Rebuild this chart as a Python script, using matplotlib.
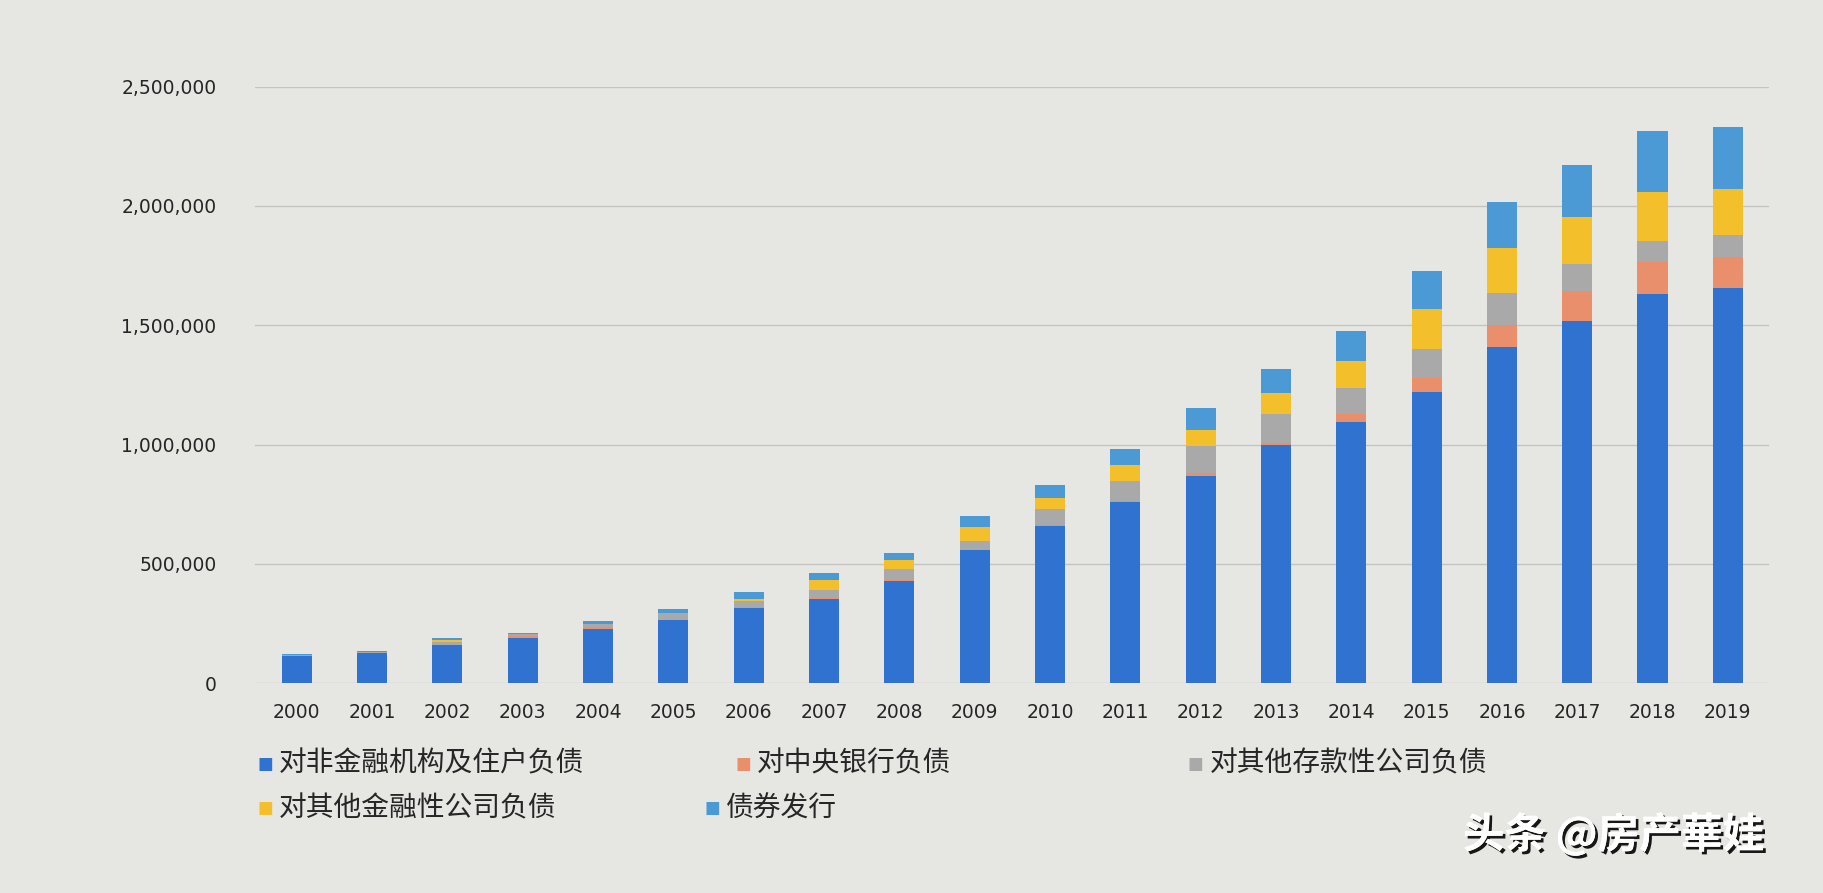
import numpy as np
import matplotlib
matplotlib.use('Agg')
import matplotlib.pyplot as plt
import matplotlib.patheffects as pe

plt.rcParams['font.family'] = ['Noto Sans CJK SC', 'DejaVu Sans']

##
## data
##
years = [str(y) for y in range(2000, 2020)]
labels = ['对非金融机构及住户负债', '对中央银行负债', '对其他存款性公司负债',
          '对其他金融性公司负债', '债券发行']

non_fin = [115000, 125000, 158000, 188000, 227000, 263000, 316000, 352000, 428000, 556000,
           659000, 759000, 869000, 998000, 1096000, 1220000, 1410000, 1516000, 1629000, 1656000]
central_bank = [2000, 2000, 3000, 8000, 8000, 3000, 3000, 4000, 5000, 3000,
                4000, 5000, 12000, 10000, 31000, 58000, 90000, 127000, 136000, 131000]
other_dep = [3000, 3000, 12000, 10000, 14000, 26000, 25000, 35000, 45000, 35000,
             66000, 84000, 111000, 120000, 112000, 121000, 135000, 113000, 90000, 90000]
other_fin = [0, 0, 8000, 0, 0, 0, 10000, 43000, 38000, 61000,
             48000, 66000, 71000, 89000, 112000, 170000, 189000, 199000, 204000, 195000]
bonds = [4000, 4000, 8000, 6000, 10000, 17000, 30000, 26000, 31000, 44000,
         53000, 66000, 89000, 98000, 125000, 157000, 194000, 217000, 253000, 258000]

yticks = [0, 500000, 1000000, 1500000, 2000000, 2500000]

colors = ['#2f72cf', '#e98f6c', '#a9a9a9', '#f3c02c', '#4b9ad6']
bg = '#e6e6e3'

fig = plt.figure(figsize=(18.24, 8.93), dpi=100, facecolor=bg)
ax = fig.add_axes([0.14, 0.235, 0.83, 0.668], facecolor=bg)

series = [non_fin, central_bank, other_dep, other_fin, bonds]
x = np.arange(len(years))
bottom = np.zeros(len(years))
for i in range(len(series)):
    vals = np.array(series[i], dtype=float)
    ax.bar(x, vals, 0.4, bottom=bottom, color=colors[i], label=labels[i], zorder=3)
    bottom += vals

ax.set_xlim(-0.55, len(years) - 0.45)
ax.set_ylim(0, 2500000)
ax.set_yticks(yticks)
ax.set_yticklabels(['{:,}'.format(v) for v in yticks])
ax.set_xticks(x)
ax.set_xticklabels(years)
ax.tick_params(length=0, labelsize=13.5, colors='#262626')
ax.tick_params(axis='y', pad=28)
ax.tick_params(axis='x', pad=14)
for lbl in ax.get_xticklabels() + ax.get_yticklabels():
    lbl.set_family('DejaVu Sans')
ax.grid(axis='y', color='#c4c4c2', linewidth=1, zorder=0)
for s in ax.spines.values():
    s.set_visible(False)

# legend, laid out by hand like the screenshot
leg_pos = [(0.141, 0.145), (0.403, 0.145), (0.651, 0.145), (0.141, 0.095), (0.386, 0.095)]
for i in range(len(labels)):
    lx, ly = leg_pos[i]
    fig.text(lx, ly, '■', color=colors[i], fontsize=12, va='center', family='DejaVu Sans')
    fig.text(lx + 0.012, ly, labels[i], color='#262626', fontsize=20, va='center')

# watermark
fig.text(0.802, 0.065, '头条 @房产華娃', color='white', fontsize=30, fontweight='bold',
         va='center', path_effects=[pe.withSimplePatchShadow(offset=(2, -2), shadow_rgbFace='black', alpha=0.9),
                                    pe.Normal()])

plt.savefig('out.png', facecolor=bg)
